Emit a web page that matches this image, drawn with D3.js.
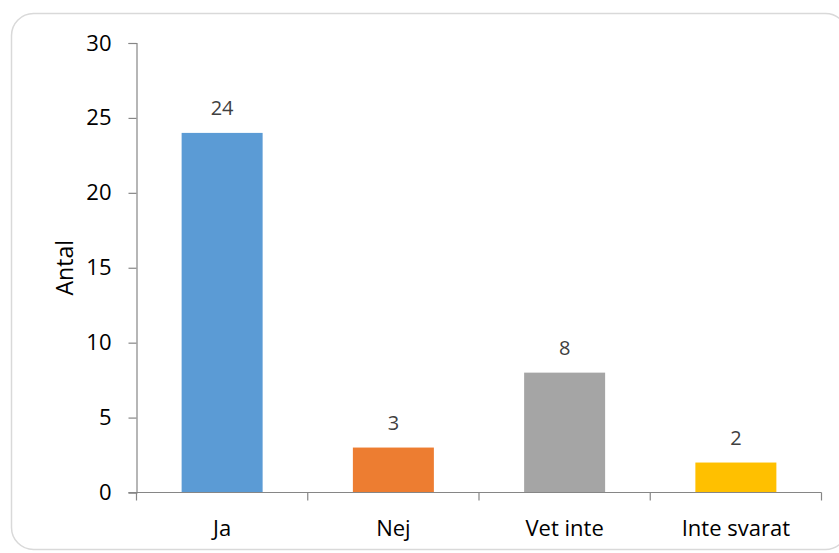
<!DOCTYPE html>
<html>
<head>
<meta charset="utf-8">
<script src="https://cdn.jsdelivr.net/npm/d3@7"></script>
<style>
  body { margin: 0; background: #fff; }
  svg text { font-family: "Open Sans", "Liberation Sans", sans-serif; }
</style>
</head>
<body>
<div id="graph"></div>
<script>
// chart data
const categories = ["Ja", "Nej", "Vet inte", "Inte svarat"]
const values = [24, 3, 8, 2]
const colors = ["#5B9BD5", "#ED7D31", "#A5A5A5", "#FFC000"]
const yTicks = [0, 5, 10, 15, 20, 25, 30]

const width = 839, height = 553
const plotLeft = 136.5, plotRight = 821.5, plotTop = 43, plotBottom = 492.5

const svg = d3.select("#graph").append("svg")
    .attr("width", width)
    .attr("height", height)

// outer frame
svg.append("rect")
    .attr("x", 11.5).attr("y", 13.5)
    .attr("width", 836).attr("height", 536)
    .attr("rx", 22)
    .attr("fill", "none")
    .attr("stroke", "#d9d9d9")
    .attr("stroke-width", 1.5)

const xScale = d3.scaleBand()
    .domain(categories)
    .range([plotLeft, plotRight])
    .paddingInner(0.527)
    .paddingOuter(0.2635)

const yScale = d3.scaleLinear()
    .domain([0, 30])
    .range([plotBottom, plotTop])

// bars
svg.selectAll(".bar")
    .data(values)
    .enter()
    .append("rect")
    .attr("class", "bar")
    .attr("x", (d, i) => xScale(categories[i]))
    .attr("y", d => yScale(d))
    .attr("width", xScale.bandwidth())
    .attr("height", d => yScale(0) - yScale(d))
    .attr("fill", (d, i) => colors[i])

// value labels
svg.selectAll(".val")
    .data(values)
    .enter()
    .append("text")
    .attr("class", "val")
    .attr("x", (d, i) => xScale(categories[i]) + xScale.bandwidth() / 2)
    .attr("y", d => yScale(d) - 18)
    .attr("text-anchor", "middle")
    .attr("font-size", 20)
    .attr("fill", "#404040")
    .text(d => d)

// y axis
const yAxis = d3.axisLeft(yScale).tickValues(yTicks).tickSize(8).tickPadding(17)
const gy = svg.append("g")
    .attr("transform", `translate(${plotLeft},0)`)
    .call(yAxis)
gy.select(".domain").attr("stroke", "#868686").attr("stroke-width", 1.2)
gy.selectAll(".tick line").attr("stroke", "#868686").attr("stroke-width", 1.2)
gy.selectAll(".tick text").attr("font-size", 22).attr("fill", "#000")

// x axis with category boundary ticks
const gx = svg.append("g")
    .attr("transform", `translate(0,${plotBottom})`)
gx.append("line")
    .attr("x1", plotLeft - 8).attr("x2", plotRight)
    .attr("stroke", "#868686").attr("stroke-width", 1.2)
const step = xScale.step()
gx.selectAll(".xt")
    .data(d3.range(categories.length + 1))
    .enter()
    .append("line")
    .attr("x1", i => plotLeft + i * step)
    .attr("x2", i => plotLeft + i * step)
    .attr("y1", 0).attr("y2", 8)
    .attr("stroke", "#868686").attr("stroke-width", 1.2)
gx.selectAll(".xl")
    .data(categories)
    .enter()
    .append("text")
    .attr("x", d => xScale(d) + xScale.bandwidth() / 2)
    .attr("y", 43.5)
    .attr("text-anchor", "middle")
    .attr("font-size", 22)
    .attr("fill", "#000")
    .text(d => d)

// y axis label
svg.append("text")
    .attr("transform", `translate(73,${(plotTop + plotBottom) / 2}) rotate(-90)`)
    .attr("text-anchor", "middle")
    .attr("font-size", 23)
    .attr("fill", "#000")
    .text("Antal")
</script>
</body>
</html>
